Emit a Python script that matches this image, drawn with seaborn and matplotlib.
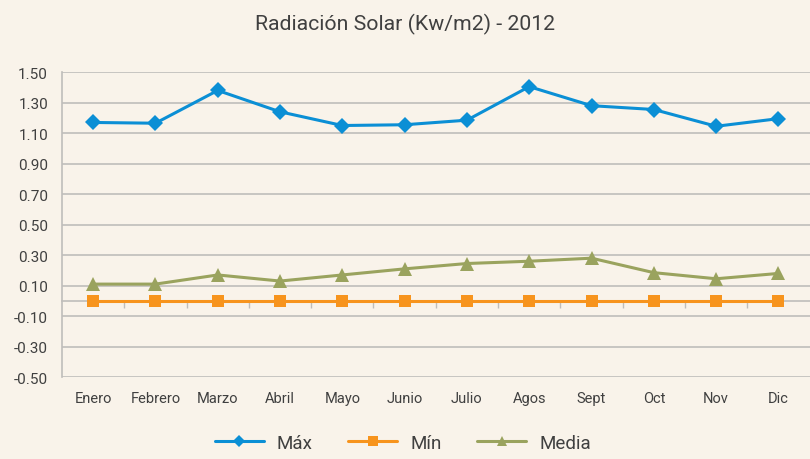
import pandas as pd
import seaborn as sns
import matplotlib.pyplot as plt

meses = ['Enero', 'Febrero', 'Marzo', 'Abril', 'Mayo', 'Junio', 'Julio',
         'Agos', 'Sept', 'Oct', 'Nov', 'Dic']
maximo = [1.17, 1.165, 1.38, 1.24, 1.15, 1.155, 1.185, 1.405, 1.28, 1.255, 1.145, 1.195]
minimo = [0.0, 0.0, 0.0, 0.0, 0.0, 0.0, 0.0, 0.0, 0.0, 0.0, 0.0, 0.0]
media = [0.11, 0.11, 0.17, 0.13, 0.17, 0.21, 0.245, 0.26, 0.28, 0.185, 0.145, 0.18]
yticks = [-0.5, -0.3, -0.1, 0.1, 0.3, 0.5, 0.7, 0.9, 1.1, 1.3, 1.5]

bg = '#F9F3EA'
txt = '#404040'
grid_c = '#BFBDBA'

sns.set_style('white')
plt.rcParams['font.family'] = ['Roboto', 'DejaVu Sans']

data = pd.DataFrame({
    'mes': meses * 3,
    'x': list(range(12)) * 3,
    'valor': maximo + minimo + media,
    'serie': ['Máx'] * 12 + ['Mín'] * 12 + ['Media'] * 12,
})

fig = plt.figure(figsize=(8.1, 4.6), dpi=100, facecolor=bg)
ax = fig.add_axes([0.0765, 0.178, 0.923, 0.663], facecolor=bg)

ax.set_yticks(yticks)
ax.yaxis.grid(True, color=grid_c, lw=1.2)
ax.set_axisbelow(True)

palette = {'Máx': '#0B8FD5', 'Mín': '#F7941D', 'Media': '#9AA35E'}
markers = {'Máx': 'D', 'Mín': 's', 'Media': '^'}
sizes = {'Máx': 8, 'Mín': 9, 'Media': 10}
for s in ['Máx', 'Mín', 'Media']:
    sns.lineplot(data=data[data.serie == s], x='x', y='valor', color=palette[s],
                 marker=markers[s], markersize=sizes[s], markeredgewidth=0,
                 lw=2.2, label=s, ax=ax)

ax.set_xlim(-0.5, 11.5)
ax.set_ylim(-0.5, 1.5)
ax.set_xticks(range(12))
ax.set_xticklabels(meses)
ax.set_yticklabels([f'{v:.2f}' for v in yticks])
ax.tick_params(axis='x', length=0, pad=10, labelsize=10.5, colors=txt)
ax.tick_params(axis='y', length=5, color=grid_c, labelsize=11, colors=txt, pad=5)
ax.set_xlabel('')
ax.set_ylabel('')

for sp in ['top', 'right', 'bottom']:
    ax.spines[sp].set_visible(False)
ax.spines['left'].set_color(grid_c)
ax.spines['left'].set_linewidth(1.2)

# eje de categorías en y=0 con marcas entre meses
sec = ax.secondary_xaxis(0.25)
sec.set_xticks([i + 0.5 for i in range(11)])
sec.set_xticklabels([])
sec.tick_params(length=5, color=grid_c, width=1)
sec.spines['bottom'].set_color(grid_c)
sec.spines['bottom'].set_linewidth(1.2)

fig.suptitle('Radiación Solar (Kw/m2) - 2012', y=0.97, fontsize=15.3, color=txt)

ax.legend(loc='upper center', bbox_to_anchor=(0.456, -0.13), ncol=3, frameon=False,
          fontsize=13.5, labelcolor=txt, handlelength=2.6, columnspacing=1.9,
          handletextpad=0.7, markerscale=0.75)

fig.savefig('out.png', dpi=100, facecolor=bg)
